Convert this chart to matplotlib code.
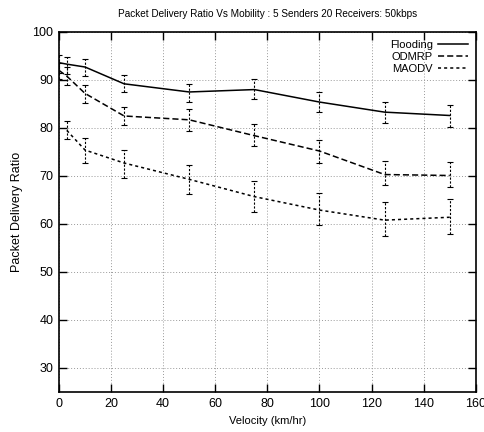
"""pdr_mobility

Packet delivery ratio against node velocity for three multicast
schemes, with error bars, drawn in a gnuplot-like style.
"""

import matplotlib
matplotlib.use('Agg')
import matplotlib.pyplot as plt

velocity = [0, 3, 10, 25, 50, 75, 100, 125, 150]

flooding = [93.6, 93.3, 92.7, 89.2, 87.5, 88.0, 85.4, 83.3, 82.6]
flooding_lo = [91.5, 91.3, 90.8, 87.4, 85.5, 86.0, 83.3, 81.0, 80.1]
flooding_hi = [95.2, 94.8, 94.4, 91.0, 89.2, 90.1, 87.5, 85.5, 84.8]

odmrp = [92.0, 90.8, 87.2, 82.5, 81.7, 78.4, 75.2, 70.3, 70.1]
odmrp_lo = [90.3, 89.0, 85.1, 80.7, 79.4, 76.2, 72.7, 68.1, 67.8]
odmrp_hi = [93.6, 92.6, 88.9, 84.4, 83.9, 80.8, 77.4, 73.1, 72.9]

maodv_velocity = [3, 10, 25, 50, 75, 100, 125, 150]
maodv = [79.5, 75.4, 72.7, 69.3, 65.7, 62.9, 60.8, 61.4]
maodv_lo = [77.6, 72.7, 69.6, 66.3, 62.6, 59.7, 57.5, 58.0]
maodv_hi = [81.4, 78.0, 75.5, 72.3, 68.9, 66.5, 64.6, 65.2]

plt.rcParams['font.family'] = ['Liberation Sans Narrow', 'Liberation Sans', 'DejaVu Sans']

fig = plt.figure(figsize=(4.85, 4.32), dpi=100)
ax = fig.add_axes([0.1216, 0.0926, 0.8594, 0.8334])

series = [
    ('Flooding', velocity, flooding, flooding_lo, flooding_hi, '-'),
    ('ODMRP', velocity, odmrp, odmrp_lo, odmrp_hi, (0, (4, 2))),
    ('MAODV', maodv_velocity, maodv, maodv_lo, maodv_hi, (0, (2, 2))),
]

for name, x, y, lo, hi, ls in series:
    ax.plot(x, y, color='black', linestyle=ls, linewidth=1.1, label=name)
    err = [[v - l for v, l in zip(y, lo)], [h - v for v, h in zip(y, hi)]]
    eb = ax.errorbar(x, y, yerr=err, fmt='none', ecolor='black', elinewidth=0.8,
                     capsize=2.2, capthick=0.8)
    eb[2][0].set_linestyle((0, (2, 1.5)))

ax.set_xlim(0, 160)
ax.set_ylim(25, 100)
ax.set_xticks(range(0, 161, 20))
ax.set_yticks(range(30, 101, 10))
ax.tick_params(direction='in', length=6, width=1.0, top=True, right=True,
               labelsize=9, pad=4)
ax.grid(True, linestyle=(0, (1, 2)), color='#999999', linewidth=0.7)
for s in ax.spines.values():
    s.set_linewidth(1.2)

ax.set_xlabel('Velocity (km/hr)', fontsize=8, labelpad=5)
ax.set_ylabel('Packet Delivery Ratio', fontsize=9, labelpad=7)
ax.set_title('Packet Delivery Ratio Vs Mobility : 5 Senders 20 Receivers: 50kbps',
             fontsize=7.2, pad=11)

leg = ax.legend(loc='upper right', frameon=False, markerfirst=False, fontsize=8,
                handlelength=2.7, handletextpad=0.45, labelspacing=0.2,
                borderaxespad=0.6, borderpad=0.1, alignment='right')
for t in leg.get_texts():
    t.set_horizontalalignment('right')

fig.savefig('out.png', dpi=100)
